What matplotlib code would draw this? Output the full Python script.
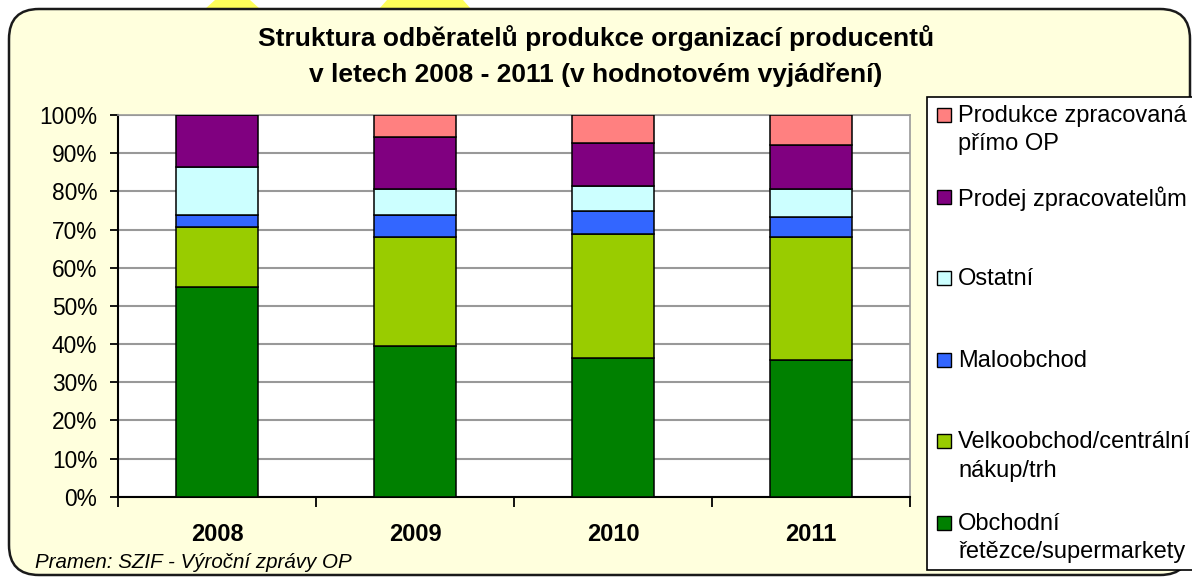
import numpy as np
import matplotlib.pyplot as plt
from matplotlib.patches import FancyBboxPatch, Rectangle, Polygon

plt.rcParams['font.family'] = ['Liberation Sans', 'DejaVu Sans']

years = ['2008', '2009', '2010', '2011']
obchodni = np.array([54.9, 39.4, 36.3, 35.9])
velkoobchod = np.array([15.8, 28.6, 32.6, 32.1])
maloobchod = np.array([3.1, 5.8, 5.9, 5.4])
ostatni = np.array([12.7, 6.8, 6.7, 7.1])
prodej = np.array([13.5, 13.7, 11.2, 11.7])
produkce = np.array([0.0, 5.7, 7.3, 7.8])

labels = ['Obchodní\nřetězce/supermarkety', 'Velkoobchod/centrální\nnákup/trh',
          'Maloobchod', 'Ostatní', 'Prodej zpracovatelům',
          'Produkce zpracovaná\npřímo OP']
colors = ['#008000', '#99CC00', '#3366FF', '#CCFFFF', '#800080', '#FF8080']
series = [obchodni, velkoobchod, maloobchod, ostatni, prodej, produkce]

W, H = 1192, 577
fig = plt.figure(figsize=(W / 100, H / 100), dpi=100, facecolor='white')

def fx(x):
    return x / W

def fy(y):
    return 1 - y / H

# yellow bits sticking out above the frame
for pts in ([(205, 9), (260, 9), (250, 0), (215, 0)],
            [(379, 9), (471, 9), (463, 0), (387, 0)]):
    fig.patches.append(Polygon([(fx(a), fy(b)) for a, b in pts], closed=True,
                               transform=fig.transFigure, facecolor='#FFFF5A',
                               edgecolor='none', zorder=0))

# rounded cream frame
frame = FancyBboxPatch((0.09, 0.02), 11.81, 5.66,
                       boxstyle='round,pad=0,rounding_size=0.3',
                       transform=fig.dpi_scale_trans, facecolor='#FFFFDD',
                       edgecolor='#1a1a1a', linewidth=1.8, zorder=1)
fig.patches.append(frame)

ax = fig.add_axes([fx(118), fy(496.7), fx(910) - fx(118), fy(115) - fy(496.7)])
ax.set_facecolor('white')
ax.set_zorder(2)

x = np.arange(len(years))
bottom = np.zeros(len(years))
for vals, c in zip(series, colors):
    ax.bar(x, vals, bottom=bottom, width=0.41, color=c, edgecolor='black',
           linewidth=1.1, zorder=3)
    bottom += vals

ax.set_xlim(-0.5, len(years) - 0.5)
ax.set_ylim(0, 100)
ax.set_yticks(np.arange(0, 101, 10))
ax.set_yticklabels([f'{v}%' for v in range(0, 101, 10)], fontsize=16.4)
ax.yaxis.grid(True, color='#999999', linewidth=1.5, zorder=0)
ax.set_axisbelow(True)
ax.tick_params(axis='y', direction='out', length=6, width=1.3, pad=9)

ax.set_xticks(np.arange(-0.5, len(years), 1.0))
ax.set_xticklabels([])
ax.set_xticks(x, minor=True)
ax.set_xticklabels(years, minor=True, fontsize=17, fontweight='bold')
ax.tick_params(axis='x', which='major', direction='out', length=7, width=1.3)
ax.tick_params(axis='x', which='minor', length=0, pad=19)

for s in ['left', 'bottom']:
    ax.spines[s].set_color('black')
    ax.spines[s].set_linewidth(1.5)
for s in ['top', 'right']:
    ax.spines[s].set_color('#999999')
    ax.spines[s].set_linewidth(1.2)

fig.text(0.5, fy(38), 'Struktura odběratelů produkce organizací producentů',
         ha='center', va='center', fontsize=19, fontweight='bold', zorder=5)
fig.text(0.5, fy(75), 'v letech 2008 - 2011 (v hodnotovém vyjádření)',
         ha='center', va='center', fontsize=19, fontweight='bold', zorder=5)

fig.text(fx(35), fy(563), 'Pramen: SZIF - Výroční zprávy OP', ha='left',
         va='center', fontsize=14.8, fontstyle='italic', zorder=5)

# legend, drawn by hand so markers sit on the first line of each entry
fig.patches.append(Rectangle((fx(927), fy(570)), fx(1220) - fx(927), fy(97) - fy(570),
                             transform=fig.transFigure, facecolor='white',
                             edgecolor='black', linewidth=1.2, zorder=4))
for i, (lab, c) in enumerate(zip(labels[::-1], colors[::-1])):
    ytop = 115 + i * 81.6
    fig.patches.append(Rectangle((fx(937), fy(ytop + 7)), fx(14), 14 / H,
                                 transform=fig.transFigure, facecolor=c,
                                 edgecolor='black', linewidth=1.0, zorder=5))
    fig.text(fx(958), fy(ytop - 10), lab, ha='left', va='top', fontsize=17,
             linespacing=1.38, zorder=5)

fig.savefig('out.png', dpi=100)
